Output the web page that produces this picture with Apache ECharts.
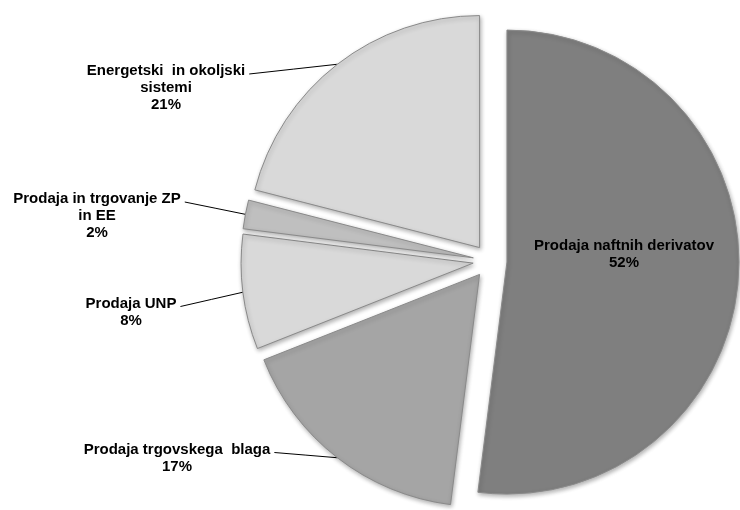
<!DOCTYPE html>
<html>
<head>
<meta charset="utf-8">
<script src="https://cdn.jsdelivr.net/npm/echarts@6/dist/echarts.min.js"></script>
<style>
  html, body { margin: 0; padding: 0; background: #fff; }
  #chart { width: 740px; height: 510px; }
</style>
</head>
<body>
<div id="chart"></div>
<script>
// slices, clockwise from 12 o'clock
var names = [
  'Prodaja naftnih derivatov',
  'Prodaja trgovskega  blaga',
  'Prodaja UNP',
  'Prodaja in trgovanje ZP\nin EE',
  'Energetski  in okoljski\nsistemi'
];
var shares = [52, 17, 8, 2, 21];
var greys = ['#7f7f7f', '#a5a5a5', '#d9d9d9', '#bfbfbf', '#d9d9d9'];

// label text block centres
var labelSpots = [[624, 254], [177, 458], [131, 312], [97, 216], [166, 88]];

var cx = 490, cy = 261, R = 232, explode = 17;
var LH = 17;

var chart = echarts.init(document.getElementById('chart'));

var total = 0;
shares.forEach(function (v) { total += v; });

// every slice is its own pie piece, pulled out along its middle angle
var series = [];
var angle = 90;
shares.forEach(function (v, i) {
  var span = v / total * 360;
  var s = angle, e = angle - span;
  var mid = (s + e) / 2 * Math.PI / 180;
  angle = e;
  var pcx = cx + explode * Math.cos(mid);
  var pcy = cy - explode * Math.sin(mid);
  series.push({
    type: 'pie',
    center: [pcx, pcy],
    radius: [0, R],
    startAngle: s,
    endAngle: e,
    clockwise: true,
    silent: true,
    avoidLabelOverlap: false,
    data: [{ name: names[i], value: v }],
    itemStyle: {
      color: greys[i],
      borderColor: '#8a8a8a',
      borderWidth: 1,
      shadowBlur: 4,
      shadowOffsetX: 1,
      shadowOffsetY: 2,
      shadowColor: 'rgba(0,0,0,0.3)'
    },
    emphasis: { disabled: true },
    label: {
      show: true,
      position: i === 0 ? 'inside' : 'outside',
      formatter: '{b}\n{c}%',
      fontFamily: 'Liberation Sans, Arial, sans-serif',
      fontWeight: 'bold',
      fontSize: 15,
      lineHeight: LH,
      color: '#000',
      align: 'center'
    },
    labelLine: {
      show: i !== 0,
      lineStyle: { color: '#000', width: 1 }
    },
    labelLayout: function (p) {
      var spot = labelSpots[i];
      var out = { x: spot[0], y: spot[1], align: 'center', verticalAlign: 'middle' };
      if (i !== 0) {
        // leader line: from end of first text line to the arc at mid angle
        var w = p.labelRect.width, h = p.labelRect.height;
        var sx = spot[0] + w / 2 + 4;
        var sy = spot[1] - h / 2 + LH / 2 + 3;
        var ex = pcx + R * Math.cos(mid);
        var ey = pcy - R * Math.sin(mid);
        out.labelLinePoints = [[sx, sy], [(sx + ex) / 2, (sy + ey) / 2], [ex, ey]];
      }
      return out;
    }
  });
});

chart.setOption({
  animation: false,
  backgroundColor: '#ffffff',
  series: series
});
</script>
</body>
</html>
